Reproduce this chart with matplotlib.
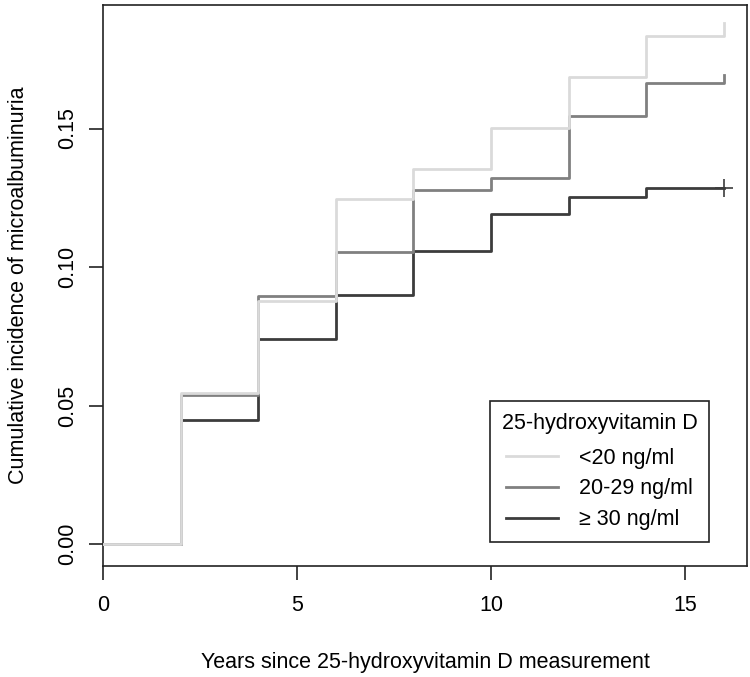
import matplotlib
matplotlib.use('Agg')
import matplotlib.pyplot as plt

plt.rcParams['font.family'] = ['Liberation Sans', 'DejaVu Sans']

# step times (years) and cumulative incidence per vitamin D group
years = [0, 2, 4, 6, 8, 10, 12, 14, 16]
low_vals = [0, 0.0546, 0.0878, 0.1245, 0.1354, 0.1503, 0.1687, 0.1835, 0.1880]
mid_vals = [0, 0.0537, 0.0895, 0.1053, 0.1277, 0.1320, 0.1546, 0.1663, 0.1693]
high_vals = [0, 0.0448, 0.0739, 0.0899, 0.1059, 0.1190, 0.1252, 0.1284, 0.1284]
labels = ['<20 ng/ml', '20-29 ng/ml', '\u2265 30 ng/ml']
colors = ['#dadada', '#808080', '#3c3c3c']
xticks = [0, 5, 10, 15]
yticks = [0.00, 0.05, 0.10, 0.15]

fs = 15.5

fig = plt.figure(figsize=(7.5, 6.77), dpi=100)
ax = fig.add_axes([103 / 750, 1 - 566 / 677, 644 / 750, 561 / 677])

lw = 2.0
ax.step(years, high_vals, where='post', color=colors[2], lw=lw, label=labels[2], zorder=3)
ax.step(years, mid_vals, where='post', color=colors[1], lw=lw, label=labels[1], zorder=4)
ax.step(years, low_vals, where='post', color=colors[0], lw=lw, label=labels[0], zorder=5)
# censoring mark at end of the >=30 curve
ax.plot([years[-1]], [high_vals[-1]], marker='+', markersize=13, mew=1.2,
        color=colors[2], zorder=6)

ax.set_xlim(0, 16.6)
ax.set_ylim(-0.0079, 0.1946)
ax.set_xticks(xticks)
ax.set_xticklabels([str(t) for t in xticks])
ax.set_yticks(yticks)
ax.set_yticklabels(['%.2f' % t for t in yticks], rotation=90, va='center')

for s in ax.spines.values():
    s.set_linewidth(1.2)
    s.set_color('#222222')
ax.tick_params(direction='out', length=10, width=1.2, color='#222222',
               labelsize=fs, pad=11)
ax.tick_params(axis='y', pad=8)

ax.set_xlabel('Years since 25-hydroxyvitamin D measurement', fontsize=fs, labelpad=26)
ax.set_ylabel('Cumulative incidence of microalbuminuria', fontsize=fs, labelpad=20)

handles, labs = ax.get_legend_handles_labels()
order = [2, 1, 0]
leg = ax.legend([handles[i] for i in order], [labs[i] for i in order],
                title='25-hydroxyvitamin D', title_fontsize=fs, fontsize=fs,
                loc='lower left', bbox_to_anchor=(0.601, 0.043),
                fancybox=False, framealpha=1, edgecolor='#222222',
                handlelength=2.4, handletextpad=1.0, labelspacing=0.45,
                borderpad=0.55, borderaxespad=0)
leg.get_frame().set_linewidth(1.2)
leg._legend_box.sep = 10

fig.savefig('out.png', dpi=100)
